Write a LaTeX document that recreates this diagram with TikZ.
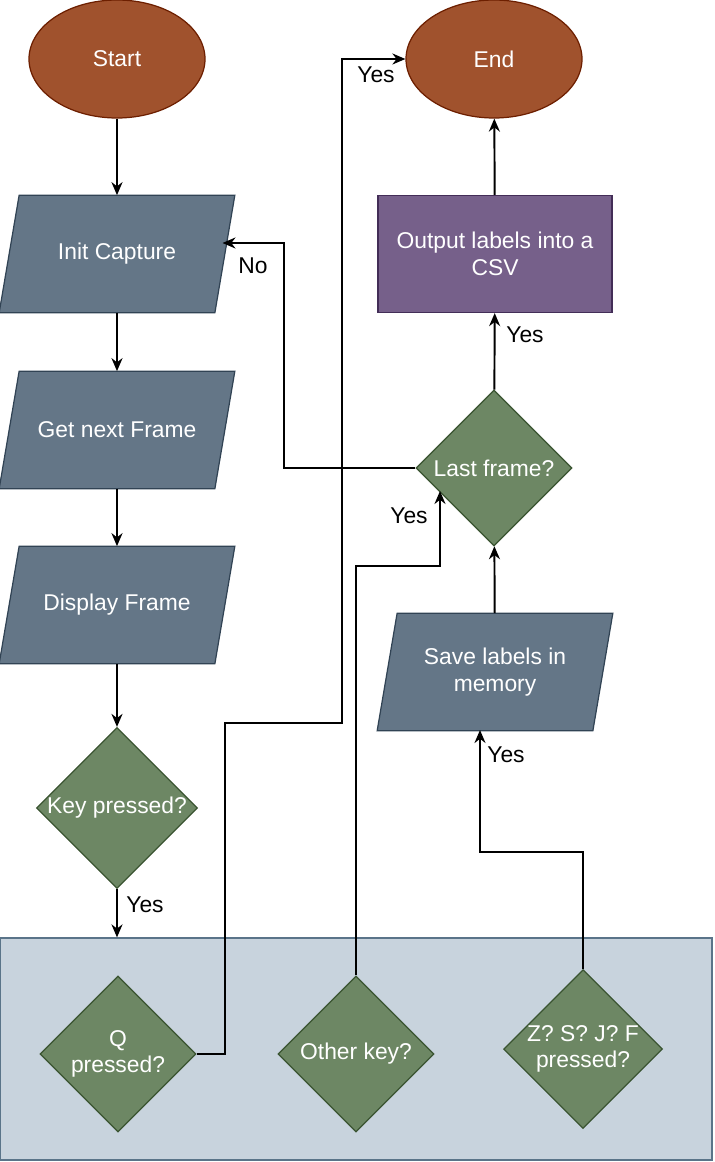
\documentclass[tikz,border=0pt]{standalone}
\usepackage{fontspec}
\setmainfont{Liberation Sans}
\usetikzlibrary{shapes.geometric,arrows.meta,backgrounds}

\definecolor{termfill}{HTML}{A0522D}
\definecolor{termdraw}{HTML}{6D1F00}
\definecolor{iofill}{HTML}{647687}
\definecolor{iodraw}{HTML}{314354}
\definecolor{decfill}{HTML}{6D8764}
\definecolor{decdraw}{HTML}{3A5431}
\definecolor{outfill}{HTML}{76608A}
\definecolor{outdraw}{HTML}{432D57}
\definecolor{grpfill}{HTML}{C8D3DD}
\definecolor{grpdraw}{HTML}{5A7489}

\begin{document}
\begin{tikzpicture}[
            font = \fontsize{13}{15}\selectfont,
            term/.style = {ellipse, draw = termdraw, fill = termfill, text = white, line width = 0.7pt, minimum width = 3.52cm, minimum height = 2.36cm},
            io/.style = {rectangle, text = white, minimum width = 4.7cm, minimum height = 2.34cm, align = center},
            iobox/.style = {draw = iodraw, fill = iofill, line width = 0.7pt},
            dec/.style = {diamond, aspect = 1, draw = decdraw, fill = decfill, text = white, line width = 0.7pt, inner sep = 0mm, minimum width = 3.12cm, minimum height = 3.12cm, align = center},
            proc/.style = {draw = outdraw, fill = outfill, text = white, line width = 0.7pt, minimum width = 4.68cm, minimum height = 2.34cm, align = center},
            group/.style = {draw = grpdraw, fill = grpfill, line width = 0.7pt, minimum width = 14.24cm, minimum height = 4.44cm},
            arr/.style = {draw, line width = 1.1pt, -{Stealth[length = 2.6mm, width = 2.2mm]}},
        ]
        \useasboundingbox (0,0) rectangle (14.28,-23.24);

        \node (start) [term] at (2.34,-1.18){Start};
        \node (init) [io] at (2.34,-5.08){Init Capture};
        \node (next) [io] at (2.34,-8.6){Get next Frame};
        \node (show) [io] at (2.34,-12.1){Display Frame};
        \node (key) [dec] at (2.34,-16.16){Key pressed?};

        \node (keys) [group] at (7.12,-20.98){};
        \node (q) [dec] at (2.36,-21.08){Q\\pressed?};
        \node (other) [dec] at (7.12,-21.08){Other key?};
        \node (zsjf) [dec] at (11.66,-20.98){Z? S? J? F\\pressed?};

        \node (save) [io] at (9.9,-13.44){Save labels in\\memory};
        \node (last) [dec] at (9.88,-9.36){Last frame?};
        \node (out) [proc] at (9.9,-5.08){Output labels into a\\CSV};
        \node (end) [term] at (9.88,-1.18){End};

        % slanted boxes behind the io texts
        \begin{scope}[on background layer]
            \foreach \n in {init,next,show,save}
                \path[iobox] ([xshift=4mm]\n.north west) -- (\n.north east)
                    -- ([xshift=-4mm]\n.south east) -- (\n.south west) -- cycle;
        \end{scope}

        \coordinate (hit) at (8.8,-9.82);

        \path[arr] (start) -- (init);
        \path[arr] (init) -- (next);
        \path[arr] (next) -- (show);
        \path[arr] (show) -- (key);
        \path[arr] (key) -- (key |- keys.north);
        \path[arr] (q.east) -- (4.5,-21.08) -- (4.5,-14.46) -- (6.84,-14.46) |- (end.west);
        \path[arr] (other.north) -- (7.12,-11.32) -| (hit);
        \path[arr] (zsjf.north) -- (11.66,-17.04) -- (9.6,-17.04) -- (9.6,-14.6);
        \path[arr] (save) -- (last);
        \path[arr] (last) -- (out);
        \path[arr] (out) -- (end);
        \path[arr] (last.west) -- (5.68,-9.36) -- (5.68,-4.86) -- (4.45,-4.86);

        \node at (2.9,-18.1){Yes};
        \node at (7.52,-1.5){Yes};
        \node at (5.06,-5.32){No};
        \node at (10.5,-6.7){Yes};
        \node at (8.18,-10.32){Yes};
        \node at (10.12,-15.1){Yes};
    \end{tikzpicture}
\end{document}
